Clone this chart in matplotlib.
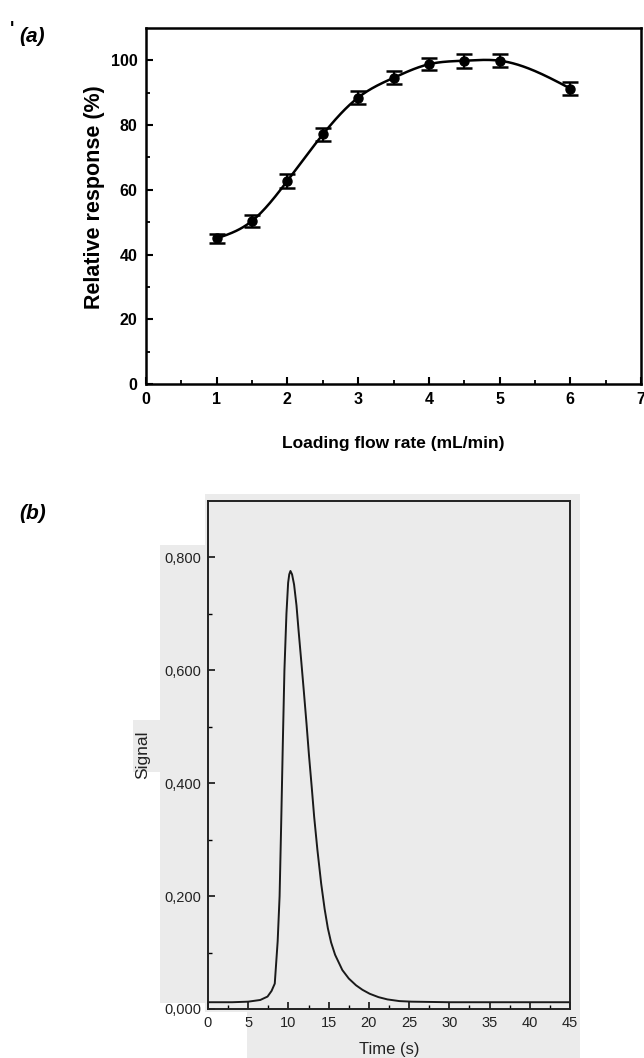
import numpy as np
import matplotlib
matplotlib.use("Agg")
import matplotlib.pyplot as plt
from matplotlib.patches import Rectangle

# ---------------- data ----------------
# panel (a)
flow_rate = [1.0, 1.5, 2.0, 2.5, 3.0, 3.5, 4.0, 4.5, 5.0, 6.0]
rel_response = [45.0, 50.4, 62.8, 77.1, 88.5, 94.6, 98.8, 99.9, 99.9, 91.3]
rel_error = [1.5, 1.9, 2.1, 1.9, 2.0, 2.0, 1.9, 2.2, 2.0, 2.1]
a_xticks = [0, 1, 2, 3, 4, 5, 6, 7]
a_yticks = [0, 20, 40, 60, 80, 100]

# panel (b) – signal trace
time_s = [0.0, 3.0, 5.0, 6.5, 7.4, 7.9, 8.3, 8.66, 8.9, 9.1, 9.3, 9.5, 9.75,
          9.96, 10.1, 10.25, 10.45, 10.7, 11.0, 11.25, 11.6, 11.9, 12.25,
          12.55, 12.9, 13.2, 13.6, 14.07, 14.5, 14.9, 15.3, 15.8, 16.7,
          17.5, 18.4, 19.2, 20.1, 21.2, 22.3, 23.8, 25.3, 30.0, 35.0, 40.0,
          45.0]
signal = [0.012, 0.012, 0.013, 0.016, 0.022, 0.032, 0.045, 0.12, 0.20,
          0.33, 0.47, 0.60, 0.70, 0.755, 0.770, 0.776, 0.770, 0.752, 0.715,
          0.672, 0.615, 0.565, 0.505, 0.450, 0.392, 0.340, 0.282, 0.222,
          0.177, 0.143, 0.118, 0.096, 0.069, 0.054, 0.042, 0.034, 0.027,
          0.021, 0.017, 0.014, 0.013, 0.012, 0.012, 0.012, 0.012]
b_xticks = [0, 5, 10, 15, 20, 25, 30, 35, 40, 45]
b_yticks = [0.0, 0.2, 0.4, 0.6, 0.8]
b_yticklabels = ["0,000", "0,200", "0,400", "0,600", "0,800"]


def natural_cubic_spline(x, y, xs):
    x = np.asarray(x, float); y = np.asarray(y, float)
    n = len(x)
    h = np.diff(x)
    A = np.zeros((n, n)); r = np.zeros(n)
    A[0, 0] = A[-1, -1] = 1.0
    for i in range(1, n - 1):
        A[i, i - 1] = h[i - 1]
        A[i, i] = 2 * (h[i - 1] + h[i])
        A[i, i + 1] = h[i]
        r[i] = 6 * ((y[i + 1] - y[i]) / h[i] - (y[i] - y[i - 1]) / h[i - 1])
    M = np.linalg.solve(A, r)
    idx = np.clip(np.searchsorted(x, xs) - 1, 0, n - 2)
    x0, x1 = x[idx], x[idx + 1]; hh = x1 - x0
    t0 = x1 - xs; t1 = xs - x0
    return (M[idx] * t0**3 / (6 * hh) + M[idx + 1] * t1**3 / (6 * hh)
            + (y[idx] / hh - M[idx] * hh / 6) * t0
            + (y[idx + 1] / hh - M[idx + 1] * hh / 6) * t1)


plt.rcParams['font.family'] = ['Liberation Sans', 'DejaVu Sans']

W, H = 644, 1058
fig = plt.figure(figsize=(W / 100, H / 100), dpi=100)
fig.patch.set_facecolor('white')


def fx(px):
    return px / W


def fy(py):
    return 1 - py / H


# ---------------- panel (b) background (scanned page patches) ----------------
grey = '#ebebeb'
bg_ax = fig.add_axes([0, 0, 1, 1], zorder=-5)
bg_ax.set_xlim(0, W)
bg_ax.set_ylim(H, 0)
bg_ax.axis('off')
for (x0, y0, x1, y1) in [(205, 494, 580, 1012), (247, 1012, 580, 1058),
                         (160, 545, 205, 1003), (133, 720, 160, 772)]:
    bg_ax.add_patch(Rectangle((x0, y0), x1 - x0, y1 - y0, facecolor=grey,
                              edgecolor='none'))

# ---------------- panel (a) ----------------
axa = fig.add_axes([fx(146), fy(384), fx(641) - fx(146), fy(28) - fy(384)])
xs = np.linspace(min(flow_rate), max(flow_rate), 400)
axa.plot(xs, natural_cubic_spline(flow_rate, rel_response, xs), color='black', lw=1.8)
axa.errorbar(flow_rate, rel_response, yerr=rel_error, fmt='o', color='black',
             ms=6.5, capsize=5.5, capthick=1.8, elinewidth=1.5)
axa.set_xlim(0, 7)
axa.set_ylim(0, 110)
axa.set_xticks(a_xticks)
axa.set_yticks(a_yticks)
axa.set_xticks(np.arange(0.5, 7, 1.0), minor=True)
axa.set_yticks(np.arange(10, 110, 20), minor=True)
axa.tick_params(direction='in', which='major', length=5, width=1.5, pad=6,
                labelsize=11.5)
axa.tick_params(direction='in', which='minor', length=3, width=1.3)
for lab in axa.get_xticklabels() + axa.get_yticklabels():
    lab.set_fontweight('bold')
for s in axa.spines.values():
    s.set_linewidth(1.8)
axa.set_xlabel('Loading flow rate (mL/min)', fontsize=12.5, fontweight='bold')
axa.set_ylabel('Relative response (%)', fontsize=15.5, fontweight='bold')
axa.xaxis.set_label_coords(0.5, -0.145)
axa.yaxis.set_label_coords(-0.082, 0.525)
fig.text(fx(19), fy(37), '(a)', fontsize=15, fontweight='bold', style='italic',
         va='center', ha='left')
fig.text(fx(10), fy(29), "'", fontsize=13, fontweight='bold', va='center', ha='left')

# ---------------- panel (b) ----------------
axb = fig.add_axes([fx(208), fy(1009), fx(570) - fx(208), fy(501) - fy(1009)])
axb.set_facecolor('none')
axb.plot(time_s, signal, color='#1a1a1a', lw=1.4)
axb.set_xlim(0, 45)
axb.set_ylim(0, 0.9)
axb.set_xticks(b_xticks)
axb.set_xticks(np.arange(2.5, 45, 5), minor=True)
axb.set_yticks(b_yticks)
axb.set_yticklabels(b_yticklabels)
axb.set_yticks(np.arange(0.1, 0.9, 0.2), minor=True)
axb.tick_params(direction='in', which='major', length=5, width=1.1, pad=5,
                labelsize=10.5, labelcolor='#222222')
axb.tick_params(direction='in', which='minor', length=3, width=1.0)
for s in axb.spines.values():
    s.set_linewidth(1.4)
    s.set_color('#222222')
axb.set_xlabel('Time (s)', fontsize=12, color='#222222')
axb.set_ylabel('Signal', fontsize=12.5, color='#222222')
axb.xaxis.set_label_coords(0.5, -0.065)
axb.yaxis.set_label_coords(-0.16, 0.5)
fig.text(fx(19), fy(513), '(b)', fontsize=15, fontweight='bold', style='italic',
         va='center', ha='left')

fig.savefig('out.png', dpi=100)
